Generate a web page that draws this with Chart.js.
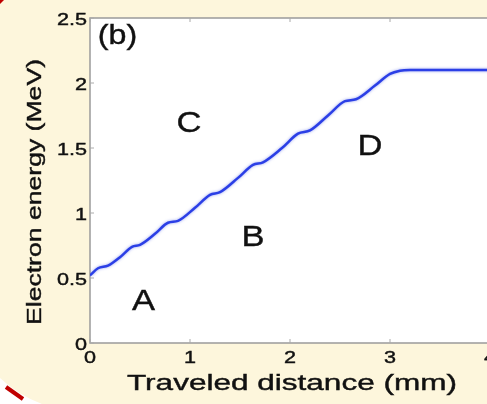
<!DOCTYPE html>
<html>
<head>
<meta charset="utf-8">
<script src="https://cdn.jsdelivr.net/npm/chart.js@4"></script>
<style>
  html, body { margin: 0; padding: 0; background: #fdf6dc; overflow: hidden; }
  #wrap { position: absolute; left: 0; top: 0; width: 500px; height: 404px; }
</style>
</head>
<body>
<div id="wrap"><canvas id="chart" width="500" height="404"></canvas></div>
<script>
// Traveled distance (mm) and electron energy (MeV)
const distance = [0, 0.08, 0.18, 0.3, 0.42, 0.5, 0.65, 0.78, 0.88, 1.05, 1.2, 1.3, 1.48, 1.63, 1.73,
  1.92, 2.08, 2.2, 2.38, 2.55, 2.66, 2.85, 3.0, 3.1, 3.2, 4.0];
const energy = [0.52, 0.575, 0.595, 0.66, 0.74, 0.755, 0.84, 0.925, 0.94, 1.04, 1.14, 1.16, 1.27, 1.37, 1.39,
  1.5, 1.61, 1.635, 1.75, 1.86, 1.875, 1.98, 2.07, 2.095, 2.1, 2.1];

const xTicks = [0, 1, 2, 3, 4];
const yTicks = [0, 0.5, 1, 1.5, 2, 2.5];
const xTitle = 'Traveled distance (mm)';
const yTitle = 'Electron energy (MeV)';

// region labels placed in data coordinates (baseline position)
const regionLabels = [
  { text: '(b)', x: 0.275, y: 2.3, size: 28 },
  { text: 'C', x: 0.99, y: 1.62, size: 30 },
  { text: 'D', x: 2.8, y: 1.446, size: 30 },
  { text: 'B', x: 1.63, y: 0.746, size: 30 },
  { text: 'A', x: 0.535, y: 0.254, size: 30 },
];

const font = '"Liberation Sans", Arial, sans-serif';

// draw text stretched horizontally, the source figure uses wide glyphs
function wideText(ctx, text, x, y, sx, align) {
  ctx.save();
  ctx.translate(x, y);
  ctx.scale(sx, 1);
  ctx.textAlign = align;
  ctx.textBaseline = 'alphabetic';
  ctx.fillText(text, 0, 0);
  ctx.strokeText(text, 0, 0);
  ctx.restore();
}

const decor = {
  id: 'decor',
  beforeDraw(chart) {
    const { ctx, chartArea: a } = chart;
    ctx.save();
    // white corner below the arc at bottom-left
    ctx.fillStyle = '#ffffff';
    ctx.beginPath();
    ctx.moveTo(0, 378);
    ctx.quadraticCurveTo(18, 395, 42, 404);
    ctx.lineTo(0, 404);
    ctx.closePath();
    ctx.fill();
    // red dash
    ctx.strokeStyle = '#c00000';
    ctx.lineWidth = 4;
    ctx.beginPath();
    ctx.moveTo(6, 387);
    ctx.lineTo(23, 399);
    ctx.stroke();
    // red corner at top-left
    ctx.fillStyle = '#c00000';
    ctx.beginPath();
    ctx.moveTo(0, 0);
    ctx.lineTo(4, 0);
    ctx.lineTo(0, 4);
    ctx.closePath();
    ctx.fill();
    // plot area
    ctx.fillStyle = '#ffffff';
    ctx.fillRect(a.left, a.top, a.right - a.left, a.bottom - a.top);
    ctx.strokeStyle = '#9a9a9a';
    ctx.lineWidth = 1.5;
    ctx.strokeRect(a.left, a.top, a.right - a.left, a.bottom - a.top);
    // small inward tick marks
    ctx.strokeStyle = '#aaaaaa';
    ctx.lineWidth = 1;
    ctx.beginPath();
    chart.scales.x.ticks.forEach(t => {
      const px = chart.scales.x.getPixelForValue(t.value);
      ctx.moveTo(px, a.bottom); ctx.lineTo(px, a.bottom - 4);
      ctx.moveTo(px, a.top); ctx.lineTo(px, a.top + 4);
    });
    chart.scales.y.ticks.forEach(t => {
      const py = chart.scales.y.getPixelForValue(t.value);
      ctx.moveTo(a.left, py); ctx.lineTo(a.left + 4, py);
    });
    ctx.stroke();
    ctx.restore();
  },
  beforeDatasetsDraw(chart) {
    // soft halo around the curve, as in the scanned figure
    const ctx = chart.ctx;
    ctx.save();
    ctx.shadowColor = 'rgba(60,80,230,0.55)';
    ctx.shadowBlur = 3;
  },
  afterDatasetsDraw(chart) {
    chart.ctx.restore();
  },
  afterDraw(chart) {
    const { ctx, scales, chartArea: a } = chart;
    ctx.save();
    ctx.fillStyle = '#111';
    ctx.strokeStyle = '#111';
    ctx.lineWidth = 0.4;

    // tick labels
    ctx.font = '16px ' + font;
    scales.y.ticks.forEach(t => {
      wideText(ctx, String(t.value), a.left - 3, scales.y.getPixelForValue(t.value) + 7, 1.35, 'right');
    });
    scales.x.ticks.forEach(t => {
      wideText(ctx, String(t.value), scales.x.getPixelForValue(t.value), a.bottom + 20, 1.35, 'center');
    });

    // axis titles
    ctx.font = '22px ' + font;
    const sxX = 330 / ctx.measureText(xTitle).width;
    wideText(ctx, xTitle, 292, 390, sxX, 'center');
    ctx.font = '21px ' + font;
    const sxY = 266 / ctx.measureText(yTitle).width;
    ctx.save();
    ctx.translate(41, 192);
    ctx.rotate(-Math.PI / 2);
    wideText(ctx, yTitle, 0, 0, sxY, 'center');
    ctx.restore();

    // region labels
    regionLabels.forEach(l => {
      ctx.font = l.size + 'px ' + font;
      wideText(ctx, l.text, scales.x.getPixelForValue(l.x), scales.y.getPixelForValue(l.y), 1.15, 'center');
    });
    ctx.restore();
  }
};

new Chart(document.getElementById('chart'), {
  type: 'line',
  data: {
    datasets: [{
      data: distance.map((d, i) => ({ x: d, y: energy[i] })),
      borderColor: '#2b3fe6',
      borderWidth: 2.5,
      pointRadius: 0,
      cubicInterpolationMode: 'monotone',
      fill: false,
    }],
  },
  options: {
    responsive: false,
    animation: false,
    layout: { padding: { left: 0, right: 10, top: 18, bottom: 0 } },
    plugins: { legend: { display: false }, tooltip: { enabled: false } },
    scales: {
      x: {
        type: 'linear', min: 0, max: 4,
        afterBuildTicks: s => { s.ticks = xTicks.map(v => ({ value: v })); },
        afterFit: s => { s.height = 61; },
        grid: { display: false },
        border: { display: false },
        ticks: { display: false },
      },
      y: {
        type: 'linear', min: 0, max: 2.5,
        afterBuildTicks: s => { s.ticks = yTicks.map(v => ({ value: v })); },
        afterFit: s => { s.width = 90; },
        grid: { display: false },
        border: { display: false },
        ticks: { display: false },
      },
    },
  },
  plugins: [decor],
});
</script>
</body>
</html>
